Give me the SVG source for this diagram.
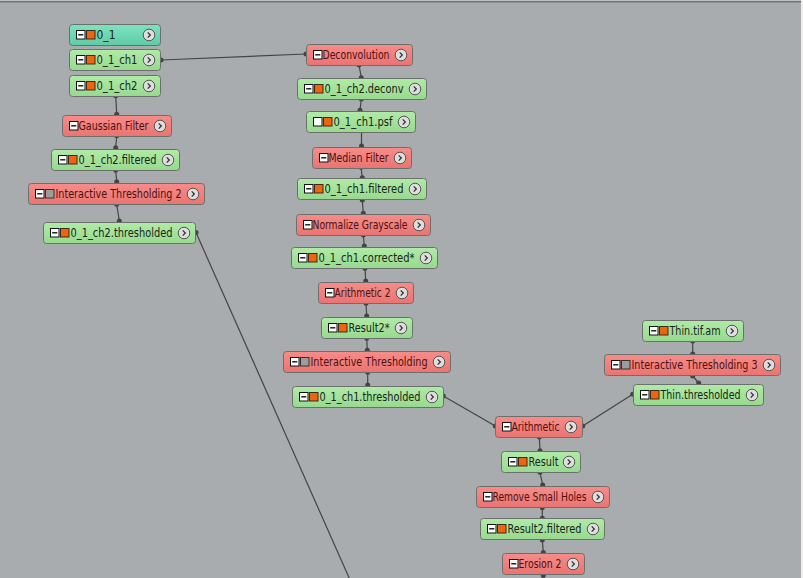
<svg xmlns="http://www.w3.org/2000/svg" xmlns:xlink="http://www.w3.org/1999/xlink" width="803" height="578" viewBox="0 0 803 578">
<defs>
<linearGradient id="gGreen" x1="0" y1="0" x2="0" y2="1"><stop offset="0" stop-color="#b0eba8"/><stop offset="1" stop-color="#97d98e"/></linearGradient>
<linearGradient id="gRed" x1="0" y1="0" x2="0" y2="1"><stop offset="0" stop-color="#f68c89"/><stop offset="1" stop-color="#ea7471"/></linearGradient>
<linearGradient id="gTeal" x1="0" y1="0" x2="0" y2="1"><stop offset="0" stop-color="#7fe2c0"/><stop offset="1" stop-color="#5ecba5"/></linearGradient>
<g id="minus"><rect x="0.5" y="0.5" width="8.5" height="8.5" fill="#ffffff" stroke="#111" stroke-width="1"/><line x1="2.2" y1="4.8" x2="7.3" y2="4.8" stroke="#111" stroke-width="1.4"/></g>
<g id="blank"><rect x="0.5" y="0.5" width="8.5" height="8.5" fill="#ffffff" stroke="#111" stroke-width="1"/></g>
<g id="orange"><rect x="0.5" y="0.5" width="8.5" height="8.5" fill="#f0640c" stroke="#3a2a20" stroke-width="1"/></g>
<g id="grey"><rect x="0.5" y="0.5" width="8.5" height="8.5" fill="#9c9c9c" stroke="#333" stroke-width="1"/></g>
<g id="btn"><circle cx="0" cy="0" r="5.8" fill="#dedede" stroke="#555" stroke-width="1"/><path d="M-1.3,-2.6 L1.3,0 L-1.3,2.6" fill="none" stroke="#333" stroke-width="1.3"/></g>
</defs>
<style>
.bg{fill:#a9acaf}
.n rect.box{stroke:#6c706c;stroke-width:1}
.green rect.box{fill:url(#gGreen)}
.red rect.box{fill:url(#gRed)}
.teal rect.box{fill:url(#gTeal)}
.n text{font-family:"DejaVu Sans Condensed","DejaVu Sans","Liberation Sans",sans-serif;font-size:12px}
.green text,.teal text{fill:#1a241a}
.red text{fill:#4a1212}
.c line{stroke:#444;stroke-width:1.2}
.c circle{fill:#444}
</style>
<rect class="bg" x="0" y="0" width="803" height="578"/>
<rect x="0" y="0" width="803" height="1" fill="#bfc1c3"/>
<rect x="0" y="1" width="803" height="1.5" fill="#737577"/>
<rect x="801" y="0" width="2" height="578" fill="#eeeeee"/>

<g id="connectors" class="c">
<line x1="161" y1="60" x2="306" y2="54"/>
<line x1="115.7" y1="95.7" x2="116.7" y2="114.3"/>
<line x1="116.7" y1="135.7" x2="115.7" y2="147.7"/>
<line x1="115.7" y1="170.3" x2="116.7" y2="181.7"/>
<line x1="116.7" y1="204.3" x2="119.3" y2="221"/>
<line x1="196" y1="232.5" x2="350.5" y2="581"/>
<line x1="359" y1="65" x2="361.3" y2="77.7"/>
<line x1="361.3" y1="99" x2="360" y2="110.3"/>
<line x1="361.5" y1="132" x2="361.5" y2="146"/>
<line x1="361" y1="167.3" x2="362.3" y2="177.7"/>
<line x1="362.3" y1="200" x2="363.3" y2="213.3"/>
<line x1="363.3" y1="235" x2="364.3" y2="246"/>
<line x1="365" y1="268.3" x2="365.7" y2="281"/>
<line x1="366" y1="303.3" x2="366.7" y2="316"/>
<line x1="366.7" y1="338.3" x2="367.3" y2="350.3"/>
<line x1="367.7" y1="372.3" x2="367.7" y2="385"/>
<line x1="443.3" y1="396" x2="495.3" y2="426"/>
<line x1="582.7" y1="426" x2="632.7" y2="394.3"/>
<line x1="692.7" y1="341" x2="692.7" y2="354"/>
<line x1="692.7" y1="376" x2="698.7" y2="383"/>
<line x1="539.3" y1="437" x2="540" y2="450.7"/>
<line x1="540" y1="472.3" x2="542.7" y2="485"/>
<line x1="542.3" y1="507.7" x2="542.3" y2="518.3"/>
<line x1="542.3" y1="540" x2="543.3" y2="552.5"/>
<circle cx="161" cy="60" r="2.5"/><circle cx="306" cy="54" r="2.5"/>
<circle cx="115.7" cy="95.7" r="2.5"/><circle cx="116.7" cy="114.3" r="2.5"/>
<circle cx="116.7" cy="135.7" r="2.5"/><circle cx="115.7" cy="147.7" r="2.5"/>
<circle cx="115.7" cy="170.3" r="2.5"/><circle cx="116.7" cy="181.7" r="2.5"/>
<circle cx="116.7" cy="204.3" r="2.5"/><circle cx="119.3" cy="221" r="2.5"/>
<circle cx="196" cy="232.5" r="2.5"/>
<circle cx="359" cy="65" r="2.5"/><circle cx="361.3" cy="77.7" r="2.5"/>
<circle cx="361.3" cy="99" r="2.5"/><circle cx="360" cy="110.3" r="2.5"/>
<circle cx="361.5" cy="146" r="2.5"/>
<circle cx="361" cy="167.3" r="2.5"/><circle cx="362.3" cy="177.7" r="2.5"/>
<circle cx="362.3" cy="200" r="2.5"/><circle cx="363.3" cy="213.3" r="2.5"/>
<circle cx="363.3" cy="235" r="2.5"/><circle cx="364.3" cy="246" r="2.5"/>
<circle cx="365" cy="268.3" r="2.5"/><circle cx="365.7" cy="281" r="2.5"/>
<circle cx="366" cy="303.3" r="2.5"/><circle cx="366.7" cy="316" r="2.5"/>
<circle cx="366.7" cy="338.3" r="2.5"/><circle cx="367.3" cy="350.3" r="2.5"/>
<circle cx="367.7" cy="372.3" r="2.5"/><circle cx="367.7" cy="385" r="2.5"/>
<circle cx="443.3" cy="396" r="2.5"/><circle cx="495.3" cy="426" r="2.5"/>
<circle cx="582.7" cy="426" r="2.5"/><circle cx="632.7" cy="394.3" r="2.5"/>
<circle cx="692.7" cy="341" r="2.5"/><circle cx="692.7" cy="354" r="2.5"/>
<circle cx="692.7" cy="376" r="2.5"/><circle cx="698.7" cy="383" r="2.5"/>
<circle cx="539.3" cy="437" r="2.5"/><circle cx="540" cy="450.7" r="2.5"/>
<circle cx="540" cy="472.3" r="2.5"/><circle cx="542.7" cy="485" r="2.5"/>
<circle cx="542.3" cy="507.7" r="2.5"/><circle cx="542.3" cy="518.3" r="2.5"/>
<circle cx="542.3" cy="540" r="2.5"/><circle cx="543.3" cy="552.5" r="2.5"/>
<circle cx="543.3" cy="575.5" r="2.5"/>
</g>

<g id="n_0_1" class="n teal" transform="translate(69,24)"><rect class="box" x="0.5" y="0.5" width="91" height="21" rx="3"/><use href="#minus" x="7" y="6"/><use href="#orange" x="17" y="6"/><text x="27.5" y="15" textLength="19" lengthAdjust="spacingAndGlyphs">0_1</text><use href="#btn" x="80" y="11"/></g>
<g id="n_0_1_ch1" class="n green" transform="translate(69,49)"><rect class="box" x="0.5" y="0.5" width="91" height="21" rx="3"/><use href="#minus" x="7" y="6"/><use href="#orange" x="17" y="6"/><text x="27.5" y="15" textLength="41" lengthAdjust="spacingAndGlyphs">0_1_ch1</text><use href="#btn" x="80" y="11"/></g>
<g id="n_0_1_ch2" class="n green" transform="translate(69,75)"><rect class="box" x="0.5" y="0.5" width="91" height="21" rx="3"/><use href="#minus" x="7" y="6"/><use href="#orange" x="17" y="6"/><text x="27.5" y="15" textLength="41" lengthAdjust="spacingAndGlyphs">0_1_ch2</text><use href="#btn" x="80" y="11"/></g>
<g id="n_gaussian" class="n red" transform="translate(62,115)"><rect class="box" x="0.5" y="0.5" width="109" height="21" rx="3"/><use href="#minus" x="7" y="6"/><text x="16.5" y="15" textLength="70" lengthAdjust="spacingAndGlyphs">Gaussian Filter</text><use href="#btn" x="98" y="11"/></g>
<g id="n_ch2_filtered" class="n green" transform="translate(51,149)"><rect class="box" x="0.5" y="0.5" width="128" height="21" rx="3"/><use href="#minus" x="7" y="6"/><use href="#orange" x="17" y="6"/><text x="27.5" y="15" textLength="78" lengthAdjust="spacingAndGlyphs">0_1_ch2.filtered</text><use href="#btn" x="117" y="11"/></g>
<g id="n_it2" class="n red" transform="translate(28,183)"><rect class="box" x="0.5" y="0.5" width="176" height="21" rx="3"/><use href="#minus" x="7" y="6"/><use href="#grey" x="17" y="6"/><text x="27.5" y="15" textLength="126" lengthAdjust="spacingAndGlyphs">Interactive Thresholding 2</text><use href="#btn" x="165" y="11"/></g>
<g id="n_ch2_thresholded" class="n green" transform="translate(43,222)"><rect class="box" x="0.5" y="0.5" width="152" height="21" rx="3"/><use href="#minus" x="7" y="6"/><use href="#orange" x="17" y="6"/><text x="27.5" y="15" textLength="102" lengthAdjust="spacingAndGlyphs">0_1_ch2.thresholded</text><use href="#btn" x="141" y="11"/></g>

<g id="n_deconvolution" class="n red" transform="translate(306,44)"><rect class="box" x="0.5" y="0.5" width="106" height="21" rx="3"/><use href="#minus" x="7" y="6"/><text x="16.5" y="15" textLength="67" lengthAdjust="spacingAndGlyphs">Deconvolution</text><use href="#btn" x="95" y="11"/></g>
<g id="n_ch2_deconv" class="n green" transform="translate(297,78)"><rect class="box" x="0.5" y="0.5" width="129" height="21" rx="3"/><use href="#minus" x="7" y="6"/><use href="#orange" x="17" y="6"/><text x="27.5" y="15" textLength="79" lengthAdjust="spacingAndGlyphs">0_1_ch2.deconv</text><use href="#btn" x="118" y="11"/></g>
<g id="n_ch1_psf" class="n green" transform="translate(306,111)"><rect class="box" x="0.5" y="0.5" width="109" height="21" rx="3"/><use href="#blank" x="7" y="6"/><use href="#orange" x="17" y="6"/><text x="27.5" y="15" textLength="59" lengthAdjust="spacingAndGlyphs">0_1_ch1.psf</text><use href="#btn" x="98" y="11"/></g>
<g id="n_median" class="n red" transform="translate(312,147)"><rect class="box" x="0.5" y="0.5" width="99" height="21" rx="3"/><use href="#minus" x="7" y="6"/><text x="16.5" y="15" textLength="60" lengthAdjust="spacingAndGlyphs">Median Filter</text><use href="#btn" x="88" y="11"/></g>
<g id="n_ch1_filtered" class="n green" transform="translate(297,178)"><rect class="box" x="0.5" y="0.5" width="129" height="21" rx="3"/><use href="#minus" x="7" y="6"/><use href="#orange" x="17" y="6"/><text x="27.5" y="15" textLength="79" lengthAdjust="spacingAndGlyphs">0_1_ch1.filtered</text><use href="#btn" x="118" y="11"/></g>
<g id="n_normalize" class="n red" transform="translate(296,214)"><rect class="box" x="0.5" y="0.5" width="134" height="21" rx="3"/><use href="#minus" x="7" y="6"/><text x="16.5" y="15" textLength="95" lengthAdjust="spacingAndGlyphs">Normalize Grayscale</text><use href="#btn" x="123" y="11"/></g>
<g id="n_ch1_corrected" class="n green" transform="translate(291,247)"><rect class="box" x="0.5" y="0.5" width="146" height="21" rx="3"/><use href="#minus" x="7" y="6"/><use href="#orange" x="17" y="6"/><text x="27.5" y="15" textLength="96" lengthAdjust="spacingAndGlyphs">0_1_ch1.corrected*</text><use href="#btn" x="135" y="11"/></g>
<g id="n_arith2" class="n red" transform="translate(318,282)"><rect class="box" x="0.5" y="0.5" width="95" height="21" rx="3"/><use href="#minus" x="7" y="6"/><text x="16.5" y="15" textLength="56" lengthAdjust="spacingAndGlyphs">Arithmetic 2</text><use href="#btn" x="84" y="11"/></g>
<g id="n_result2" class="n green" transform="translate(321,317)"><rect class="box" x="0.5" y="0.5" width="91" height="21" rx="3"/><use href="#minus" x="7" y="6"/><use href="#orange" x="17" y="6"/><text x="27.5" y="15" textLength="41" lengthAdjust="spacingAndGlyphs">Result2*</text><use href="#btn" x="80" y="11"/></g>
<g id="n_it" class="n red" transform="translate(283,351)"><rect class="box" x="0.5" y="0.5" width="167" height="21" rx="3"/><use href="#minus" x="7" y="6"/><use href="#grey" x="17" y="6"/><text x="27.5" y="15" textLength="117" lengthAdjust="spacingAndGlyphs">Interactive Thresholding</text><use href="#btn" x="156" y="11"/></g>
<g id="n_ch1_thresholded" class="n green" transform="translate(292,386)"><rect class="box" x="0.5" y="0.5" width="151" height="21" rx="3"/><use href="#minus" x="7" y="6"/><use href="#orange" x="17" y="6"/><text x="27.5" y="15" textLength="101" lengthAdjust="spacingAndGlyphs">0_1_ch1.thresholded</text><use href="#btn" x="140" y="11"/></g>

<g id="n_thin_tif" class="n green" transform="translate(642,320)"><rect class="box" x="0.5" y="0.5" width="101" height="21" rx="3"/><use href="#minus" x="7" y="6"/><use href="#orange" x="17" y="6"/><text x="27.5" y="15" textLength="51" lengthAdjust="spacingAndGlyphs">Thin.tif.am</text><use href="#btn" x="90" y="11"/></g>
<g id="n_it3" class="n red" transform="translate(604,354)"><rect class="box" x="0.5" y="0.5" width="176" height="21" rx="3"/><use href="#minus" x="7" y="6"/><use href="#grey" x="17" y="6"/><text x="27.5" y="15" textLength="126" lengthAdjust="spacingAndGlyphs">Interactive Thresholding 3</text><use href="#btn" x="165" y="11"/></g>
<g id="n_thin_thresholded" class="n green" transform="translate(633,384)"><rect class="box" x="0.5" y="0.5" width="130" height="21" rx="3"/><use href="#minus" x="7" y="6"/><use href="#orange" x="17" y="6"/><text x="27.5" y="15" textLength="80" lengthAdjust="spacingAndGlyphs">Thin.thresholded</text><use href="#btn" x="119" y="11"/></g>
<g id="n_arith" class="n red" transform="translate(495,416)"><rect class="box" x="0.5" y="0.5" width="87" height="21" rx="3"/><use href="#minus" x="7" y="6"/><text x="16.5" y="15" textLength="48" lengthAdjust="spacingAndGlyphs">Arithmetic</text><use href="#btn" x="76" y="11"/></g>
<g id="n_result" class="n green" transform="translate(501,451)"><rect class="box" x="0.5" y="0.5" width="79" height="21" rx="3"/><use href="#minus" x="7" y="6"/><use href="#orange" x="17" y="6"/><text x="27.5" y="15" textLength="30" lengthAdjust="spacingAndGlyphs">Result</text><use href="#btn" x="68" y="11"/></g>
<g id="n_rsh" class="n red" transform="translate(476,486)"><rect class="box" x="0.5" y="0.5" width="133" height="21" rx="3"/><use href="#minus" x="7" y="6"/><text x="16.5" y="15" textLength="94" lengthAdjust="spacingAndGlyphs">Remove Small Holes</text><use href="#btn" x="122" y="11"/></g>
<g id="n_result2_filtered" class="n green" transform="translate(480,518)"><rect class="box" x="0.5" y="0.5" width="124" height="21" rx="3"/><use href="#minus" x="7" y="6"/><use href="#orange" x="17" y="6"/><text x="27.5" y="15" textLength="74" lengthAdjust="spacingAndGlyphs">Result2.filtered</text><use href="#btn" x="113" y="11"/></g>
<g id="n_erosion2" class="n red" transform="translate(502,553)"><rect class="box" x="0.5" y="0.5" width="82" height="21" rx="3"/><use href="#minus" x="7" y="6"/><text x="16.5" y="15" textLength="43" lengthAdjust="spacingAndGlyphs">Erosion 2</text><use href="#btn" x="71" y="11"/></g>
</svg>
